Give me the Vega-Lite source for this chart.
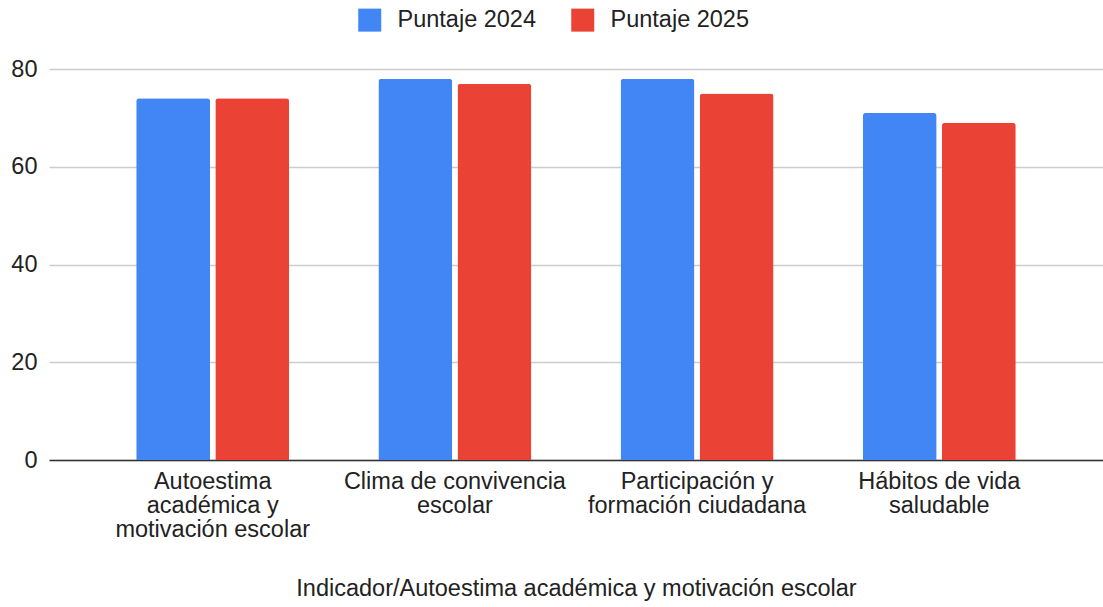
{
  "$schema": "https://vega.github.io/schema/vega-lite/v6.json",
  "autosize": {"type": "none"},
  "width": 1054,
  "height": 391,
  "padding": {"left": 49, "top": 69, "right": 0, "bottom": 147},
  "background": "white",
  "config": {
    "font": "Liberation Sans",
    "view": {"stroke": null}
  },
  "data": {
    "values": [
      {"indicador": "Autoestima académica y motivación escolar", "serie": "Puntaje 2024", "puntaje": 74},
      {"indicador": "Autoestima académica y motivación escolar", "serie": "Puntaje 2025", "puntaje": 74},
      {"indicador": "Clima de convivencia escolar", "serie": "Puntaje 2024", "puntaje": 78},
      {"indicador": "Clima de convivencia escolar", "serie": "Puntaje 2025", "puntaje": 77},
      {"indicador": "Participación y formación ciudadana", "serie": "Puntaje 2024", "puntaje": 78},
      {"indicador": "Participación y formación ciudadana", "serie": "Puntaje 2025", "puntaje": 75},
      {"indicador": "Hábitos de vida saludable", "serie": "Puntaje 2024", "puntaje": 71},
      {"indicador": "Hábitos de vida saludable", "serie": "Puntaje 2025", "puntaje": 69}
    ]
  },
  "mark": {"type": "bar", "cornerRadiusTopLeft": 3, "cornerRadiusTopRight": 3},
  "encoding": {
    "x": {
      "field": "indicador",
      "type": "nominal",
      "sort": null,
      "scale": {"paddingInner": 0.368, "paddingOuter": 0.36},
      "axis": {
        "title": "Indicador/Autoestima académica y motivación escolar",
        "titleFont": "Liberation Sans",
        "titleFontSize": 23.5,
        "titleFontWeight": "normal",
        "titleColor": "#222222",
        "titlePadding": 36,
        "labelAngle": 0,
        "labelFontSize": 23.5,
        "labelColor": "#222222",
        "labelLineHeight": 24,
        "labelPadding": 9,
        "labelBaseline": "top",
        "labelLimit": 400,
        "ticks": false,
        "domainColor": "#333333",
        "domainWidth": 1.5,
        "labelExpr": "datum.value == 'Autoestima académica y motivación escolar' ? ['Autoestima', 'académica y', 'motivación escolar'] : datum.value == 'Clima de convivencia escolar' ? ['Clima de convivencia', 'escolar'] : datum.value == 'Participación y formación ciudadana' ? ['Participación y', 'formación ciudadana'] : ['Hábitos de vida', 'saludable']"
      }
    },
    "xOffset": {"field": "serie", "type": "nominal", "scale": {"paddingInner": 0.065}},
    "y": {
      "field": "puntaje",
      "type": "quantitative",
      "scale": {"domain": [0, 80]},
      "axis": {
        "title": null,
        "values": [0, 20, 40, 60, 80],
        "domain": false,
        "ticks": false,
        "labelFontSize": 23.5,
        "labelColor": "#222222",
        "labelPadding": 12,
        "gridColor": "#cccccc",
        "gridWidth": 1.5
      }
    },
    "color": {
      "field": "serie",
      "type": "nominal",
      "scale": {"domain": ["Puntaje 2024", "Puntaje 2025"], "range": ["#4285F4", "#EA4335"]},
      "legend": {
        "title": null,
        "orient": "none",
        "legendX": 309,
        "legendY": -61,
        "direction": "horizontal",
        "symbolType": "square",
        "symbolSize": 529,
        "symbolStrokeWidth": 0,
        "labelFontSize": 23.5,
        "labelColor": "#222222",
        "labelOffset": 16,
        "columnPadding": 34
      }
    }
  }
}
